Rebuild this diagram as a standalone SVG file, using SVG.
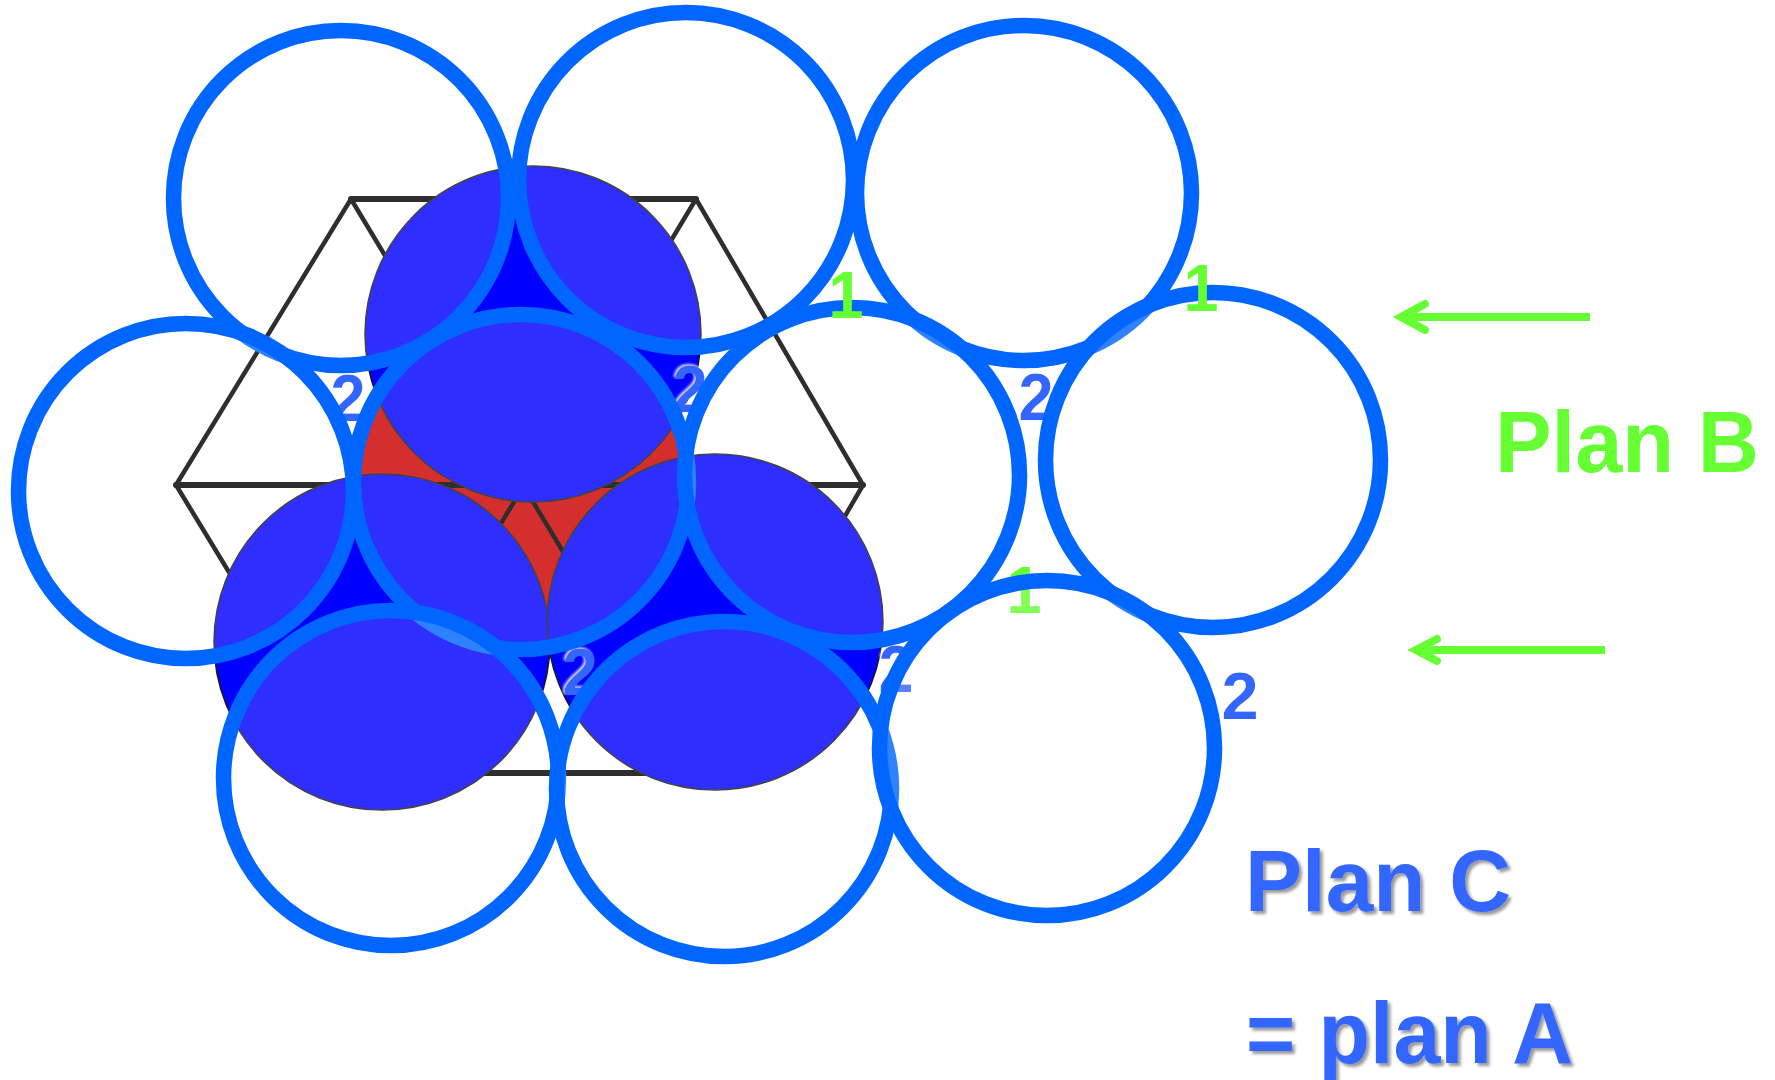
<svg xmlns="http://www.w3.org/2000/svg" width="1775" height="1080" viewBox="0 0 1775 1080">
<defs>
<style>
.ring{fill:#ffffff;fill-opacity:0.18;stroke:#0066ff;stroke-width:15.5}
.ball{fill:#0000ff;stroke:#1a1a1a;stroke-width:1.5}
.red{fill:#cc0000;stroke:none}
.grid{stroke:#000000;stroke-width:4.5;fill:none;stroke-linecap:round}
.gridh{stroke:#000000;stroke-width:6;fill:none;stroke-linecap:round}
.lbl{font-family:"Liberation Sans",Arial,sans-serif;font-weight:bold;font-size:67px;text-anchor:middle}
.two{fill:#3366ff;filter:url(#glow)}
.one{fill:#66ff33}
.big{font-family:"Liberation Sans",Arial,sans-serif;font-weight:bold;font-size:88px}
.arrow{stroke:#66ff33;stroke-width:8;fill:none;stroke-linecap:round;stroke-linejoin:miter}
.shaft{stroke:#66ff33;stroke-width:8;fill:none;stroke-linecap:butt}
</style>
<filter id="glow" x="-30%" y="-30%" width="160%" height="160%">
<feDropShadow dx="-1.5" dy="-1.5" stdDeviation="0.8" flood-color="#ffffff" flood-opacity="0.85"/>
</filter>
<filter id="shadow" x="-10%" y="-10%" width="120%" height="130%">
<feDropShadow dx="3" dy="3" stdDeviation="1.5" flood-color="#000000" flood-opacity="0.4"/>
</filter>
</defs>
<rect width="1775" height="1080" fill="#ffffff"/>

<g id="red-sphere"><circle class="red" cx="521" cy="482" r="167"/></g>

<g id="hexagon">
<line class="gridh" x1="351" y1="199" x2="696" y2="199"/>
<line class="gridh" x1="176" y1="485" x2="863" y2="485"/>
<line class="gridh" x1="351" y1="773" x2="696" y2="773"/>
<line class="grid" x1="351" y1="199" x2="176" y2="485"/>
<line class="grid" x1="696" y1="199" x2="863" y2="485"/>
<line class="grid" x1="176" y1="485" x2="351" y2="773"/>
<line class="grid" x1="863" y1="485" x2="696" y2="773"/>
<line class="grid" x1="351" y1="199" x2="696" y2="773"/>
<line class="grid" x1="696" y1="199" x2="351" y2="773"/>
</g>

<g id="blue-spheres">
<circle id="ball-top" class="ball" cx="533" cy="334" r="168"/>
<circle id="ball-left" class="ball" cx="382" cy="642" r="168"/>
<circle id="ball-right" class="ball" cx="715" cy="622" r="168"/>
</g>

<g id="labels-2">
<text class="lbl two" x="348" y="421" textLength="35" lengthAdjust="spacingAndGlyphs">2</text>
<text class="lbl two" x="690" y="412" textLength="35" lengthAdjust="spacingAndGlyphs">2</text>
<text class="lbl two" x="1036" y="420" textLength="35" lengthAdjust="spacingAndGlyphs">2</text>
<text class="lbl two" x="580" y="695" textLength="35" lengthAdjust="spacingAndGlyphs">2</text>
<text class="lbl two" x="896" y="692" textLength="35" lengthAdjust="spacingAndGlyphs">2</text>
<text class="lbl two" x="1240" y="719" textLength="37" lengthAdjust="spacingAndGlyphs">2</text>
</g>

<g id="rings">
<circle id="ring1" class="ring" cx="341" cy="198" r="167.5"/>
<circle id="ring2" class="ring" cx="686" cy="180" r="167.5"/>
<circle id="ring3" class="ring" cx="1024" cy="193" r="167.5"/>
<circle id="ring4" class="ring" cx="186" cy="491" r="167.5"/>
<circle id="ring5" class="ring" cx="521" cy="482" r="167.5"/>
<circle id="ring6" class="ring" cx="852" cy="475" r="167.5"/>
<circle id="ring7" class="ring" cx="1213" cy="460" r="167.5"/>
<circle id="ring8" class="ring" cx="391" cy="778" r="167.5"/>
<circle id="ring9" class="ring" cx="724" cy="789" r="167.5"/>
</g>

<g id="labels-1">
<text class="lbl one" x="846" y="318" textLength="35" lengthAdjust="spacingAndGlyphs">1</text>
<text class="lbl one" x="1201" y="311" textLength="35" lengthAdjust="spacingAndGlyphs">1</text>
<text class="lbl one" x="1024" y="613" textLength="35" lengthAdjust="spacingAndGlyphs">1</text>
</g>

<g id="ring10-node"><circle id="ring10" class="ring" cx="1047" cy="748" r="167.5"/></g>

<g id="connectors">
<line class="shaft" x1="1590" y1="317" x2="1400" y2="317"/>
<polyline class="arrow" points="1425,304 1401,317 1425,330"/>
<line class="shaft" x1="1605" y1="650" x2="1415" y2="650"/>
<polyline class="arrow" points="1437,639 1416,650 1437,661"/>
</g>

<g id="plan-b"><text class="big" x="1495" y="472" fill="#66ff33" textLength="264" lengthAdjust="spacingAndGlyphs">Plan B</text></g>
<g id="plan-c" filter="url(#shadow)">
<text class="big" x="1245" y="911" fill="#3366ff" textLength="266" lengthAdjust="spacingAndGlyphs">Plan C</text>
<text class="big" x="1246" y="1063" fill="#3366ff" textLength="327" lengthAdjust="spacingAndGlyphs">= plan A</text>
</g>
</svg>
